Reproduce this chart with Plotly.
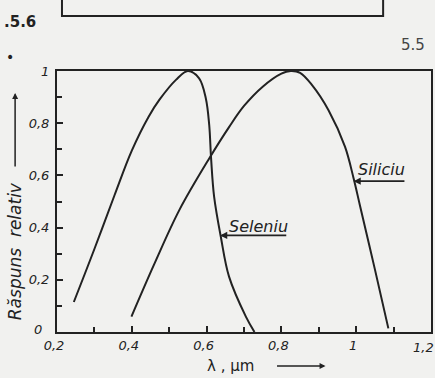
import plotly.graph_objects as go

# Data (wavelength in µm, relative response)
seleniu_lambda = [0.245, 0.30, 0.354, 0.40, 0.445, 0.474, 0.518, 0.55, 0.58, 0.598, 0.607, 0.612, 0.62, 0.638, 0.66, 0.705, 0.728]
seleniu_resp = [0.115, 0.318, 0.525, 0.695, 0.825, 0.89, 0.966, 1.0, 0.972, 0.895, 0.793, 0.665, 0.52, 0.365, 0.212, 0.059, 0.0]

siliciu_lambda = [0.399, 0.46, 0.527, 0.607, 0.66, 0.70, 0.75, 0.80, 0.825, 0.85, 0.882, 0.926, 0.97, 0.993, 1.01, 1.05, 1.086]
siliciu_resp = [0.059, 0.26, 0.467, 0.665, 0.785, 0.866, 0.94, 0.99, 1.0, 0.993, 0.946, 0.85, 0.71, 0.589, 0.485, 0.24, 0.014]

x_ticks = [0.2, 0.4, 0.6, 0.8, 1.0]
x_ticklabels = ["0,2", "0,4", "0,6", "0,8", "1"]
x_last_label = "1,2"
y_ticks = [0, 0.2, 0.4, 0.6, 0.8, 1.0]
y_ticklabels = ["", "0,2", "0,4", "0,6", "0,8", "1"]
y_zero_label = "0"

INK = "#222222"
BG = "#f1f1ef"
FONT = "DejaVu Sans"

fig = go.Figure()
fig.add_trace(go.Scatter(x=seleniu_lambda, y=seleniu_resp, mode="lines",
                         line=dict(color=INK, width=2, shape="spline", smoothing=1.0),
                         name="Seleniu", showlegend=False))
fig.add_trace(go.Scatter(x=siliciu_lambda, y=siliciu_resp, mode="lines",
                         line=dict(color=INK, width=2, shape="spline", smoothing=1.0),
                         name="Siliciu", showlegend=False))

axis_common = dict(showgrid=False, zeroline=False, showline=True, linecolor=INK, linewidth=2,
                   mirror=True, ticks="inside", ticklen=6, tickwidth=1.5, tickcolor=INK,
                   tickfont=dict(family=FONT, size=13, color=INK))

fig.update_xaxes(range=[0.2, 1.2], tickvals=x_ticks, ticklabelshift=-3,
                 ticktext=["<i>%s</i>" % t for t in x_ticklabels],
                 minor=dict(dtick=0.1, ticks="inside", ticklen=5, tickwidth=1.5, tickcolor=INK),
                 **axis_common)
fig.update_yaxes(range=[0, 1.0], tickvals=y_ticks, ticklabelstandoff=3,
                 ticktext=["<i>%s</i>" % t if t else "" for t in y_ticklabels],
                 minor=dict(dtick=0.1, ticks="inside", ticklen=5, tickwidth=1.5, tickcolor=INK),
                 **axis_common)

C = dict(xanchor="center", yanchor="middle")
annotations = [
    # Seleniu label with arrow pointing to curve
    dict(x=0.636, y=0.37, xref="x", yref="y", ax=0.817, ay=0.37, axref="x", ayref="y",
         showarrow=True, arrowhead=2, arrowsize=0.8, arrowwidth=1.8, arrowcolor=INK, text=""),
    dict(x=0.74, y=0.405, xref="x", yref="y", showarrow=False, **C,
         text="<i>Seleniu</i>", font=dict(family=FONT, size=16, color=INK)),
    # Siliciu
    dict(x=0.993, y=0.578, xref="x", yref="y", ax=1.133, ay=0.578, axref="x", ayref="y",
         showarrow=True, arrowhead=2, arrowsize=0.8, arrowwidth=1.8, arrowcolor=INK, text=""),
    dict(x=1.067, y=0.622, xref="x", yref="y", showarrow=False, **C,
         text="<i>Siliciu</i>", font=dict(family=FONT, size=16, color=INK)),
    # last x tick label and y zero label
    dict(x=0.979, y=-0.0575, xref="paper", yref="paper", showarrow=False, **C,
         text="<i>%s</i>" % x_last_label, font=dict(family=FONT, size=13, color=INK)),
    dict(x=-0.05, y=0.01, xref="paper", yref="paper", showarrow=False, **C,
         text="<i>%s</i>" % y_zero_label, font=dict(family=FONT, size=13, color=INK)),
    # Y axis title
    dict(x=-0.112, y=0.31, xref="paper", yref="paper", showarrow=False, textangle=-90, **C,
         text="<i>Răspuns  relativ</i>", font=dict(family=FONT, size=17, color=INK)),
    dict(x=-0.112, y=0.916, xref="paper", yref="paper", ax=0, ay=75, showarrow=True,
         arrowhead=2, arrowsize=0.8, arrowwidth=1.5, arrowcolor=INK, text=""),
    # X axis title
    dict(x=0.464, y=-0.130, xref="paper", yref="paper", showarrow=False, **C,
         text="λ , μm", font=dict(family=FONT, size=15, color=INK)),
    dict(x=0.718, y=-0.130, xref="paper", yref="paper", ax=-50, ay=0, showarrow=True,
         arrowhead=2, arrowsize=0.8, arrowwidth=1.5, arrowcolor=INK, text=""),
    # Page decorations
    dict(x=-0.098, y=1.188, xref="paper", yref="paper", showarrow=False, **C,
         text="<b>.5.6</b>", font=dict(family=FONT, size=15, color=INK)),
    dict(x=0.952, y=1.10, xref="paper", yref="paper", showarrow=False, **C,
         text="5.5", font=dict(family=FONT, size=15, color="#444444")),
    dict(x=-0.125, y=1.054, xref="paper", yref="paper", showarrow=False, **C,
         text="•", font=dict(family=FONT, size=14, color=INK)),
]

shapes = [
    dict(type="rect", xref="paper", yref="paper", x0=0.0133, x1=0.872, y0=1.2107, y1=1.35,
         line=dict(color=INK, width=2), fillcolor="rgba(0,0,0,0)"),
]

fig.update_layout(
    width=435, height=378,
    margin=dict(l=57, r=2, t=71, b=46),
    paper_bgcolor=BG, plot_bgcolor=BG,
    annotations=annotations, shapes=shapes,
    font=dict(family=FONT, color=INK),
)

fig.write_html("out.html")
